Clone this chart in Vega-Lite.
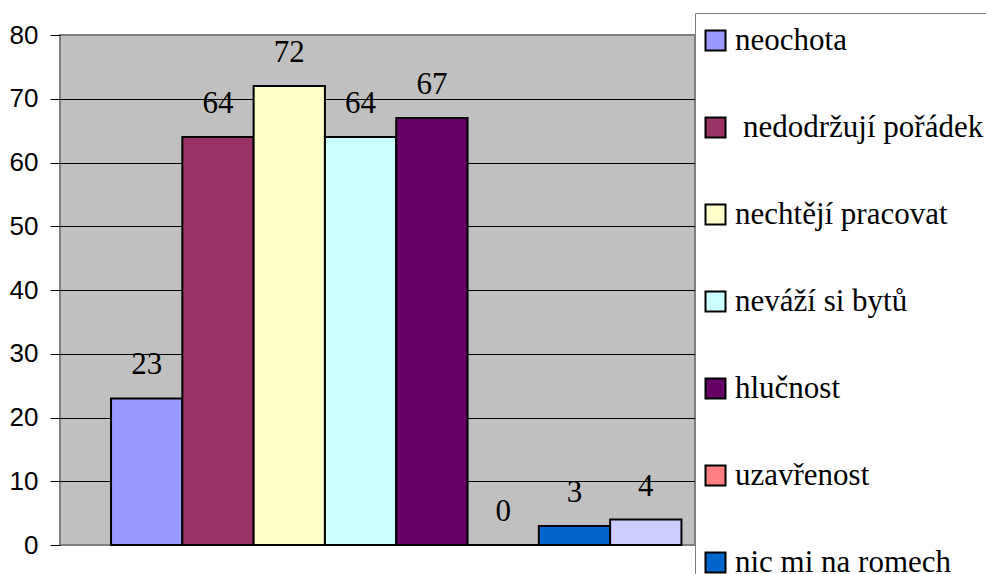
{
  "$schema": "https://vega.github.io/schema/vega-lite/v6.json",
  "width": 635,
  "height": 510,
  "autosize": {"type": "none"},
  "padding": {"left": 60, "top": 35, "right": 291, "bottom": 29},
  "background": "white",
  "config": {
    "view": {"fill": "#C0C0C0", "stroke": "#808080", "strokeWidth": 2}
  },
  "data": {
    "values": [
      {"kategorie": "neochota", "hodnota": 23},
      {"kategorie": "nedodržují pořádek", "hodnota": 64},
      {"kategorie": "nechtějí pracovat", "hodnota": 72},
      {"kategorie": "neváží si bytů", "hodnota": 64},
      {"kategorie": "hlučnost", "hodnota": 67},
      {"kategorie": "uzavřenost", "hodnota": 0},
      {"kategorie": "nic mi na romech", "hodnota": 3},
      {"kategorie": "jiné", "hodnota": 4}
    ]
  },
  "encoding": {
    "x": {
      "field": "kategorie",
      "type": "nominal",
      "sort": null,
      "axis": null,
      "scale": {"paddingInner": 0, "paddingOuter": 0.453, "align": 0.79}
    },
    "y": {
      "field": "hodnota",
      "type": "quantitative",
      "scale": {"domain": [0, 80], "nice": false},
      "axis": {
        "title": null,
        "values": [0, 10, 20, 30, 40, 50, 60, 70, 80],
        "domain": false,
        "grid": true,
        "gridColor": {"condition": {"test": "datum.value === 0 || datum.value === 80", "value": "#808080"}, "value": "black"},
        "gridWidth": 1,
        "ticks": true,
        "tickColor": "black",
        "tickSize": 10,
        "labelPadding": 12,
        "labelFont": "Liberation Sans",
        "labelFontSize": 26,
        "labelColor": "black"
      }
    }
  },
  "layer": [
    {
      "mark": {"type": "bar", "stroke": "black", "strokeWidth": 2},
      "encoding": {
        "color": {
          "field": "kategorie",
          "type": "nominal",
          "sort": null,
          "scale": {
            "domain": ["neochota", "nedodržují pořádek", "nechtějí pracovat", "neváží si bytů", "hlučnost", "uzavřenost", "nic mi na romech", "jiné"],
            "range": ["#9999FF", "#993366", "#FFFFCC", "#CCFFFF", "#660066", "#FF8080", "#0066CC", "#CCCCFF"]
          },
          "legend": {
            "title": null,
            "orient": "none",
            "legendX": 635,
            "legendY": -22,
            "fillColor": "white",
            "strokeColor": "#808080",
            "padding": 12,
            "symbolType": "square",
            "symbolSize": 400,
            "symbolStrokeColor": "black",
            "symbolStrokeWidth": 2,
            "symbolOpacity": 1,
            "symbolOffset": -7,
            "labelFont": "Liberation Serif",
            "labelFontSize": 31,
            "labelColor": "black",
            "labelOffset": 4,
            "rowPadding": 55,
            "labelLimit": 500,
            "encode": {
              "labels": {
                "update": {
                  "dx": {"signal": "datum.label === 'nedodržují pořádek' ? 8 : 0"}
                }
              }
            }
          }
        }
      }
    },
    {
      "mark": {"type": "text", "font": "Liberation Serif", "fontSize": 31, "dy": -24, "baseline": "alphabetic", "color": "black"},
      "encoding": {"text": {"field": "hodnota", "type": "quantitative"}}
    }
  ]
}
